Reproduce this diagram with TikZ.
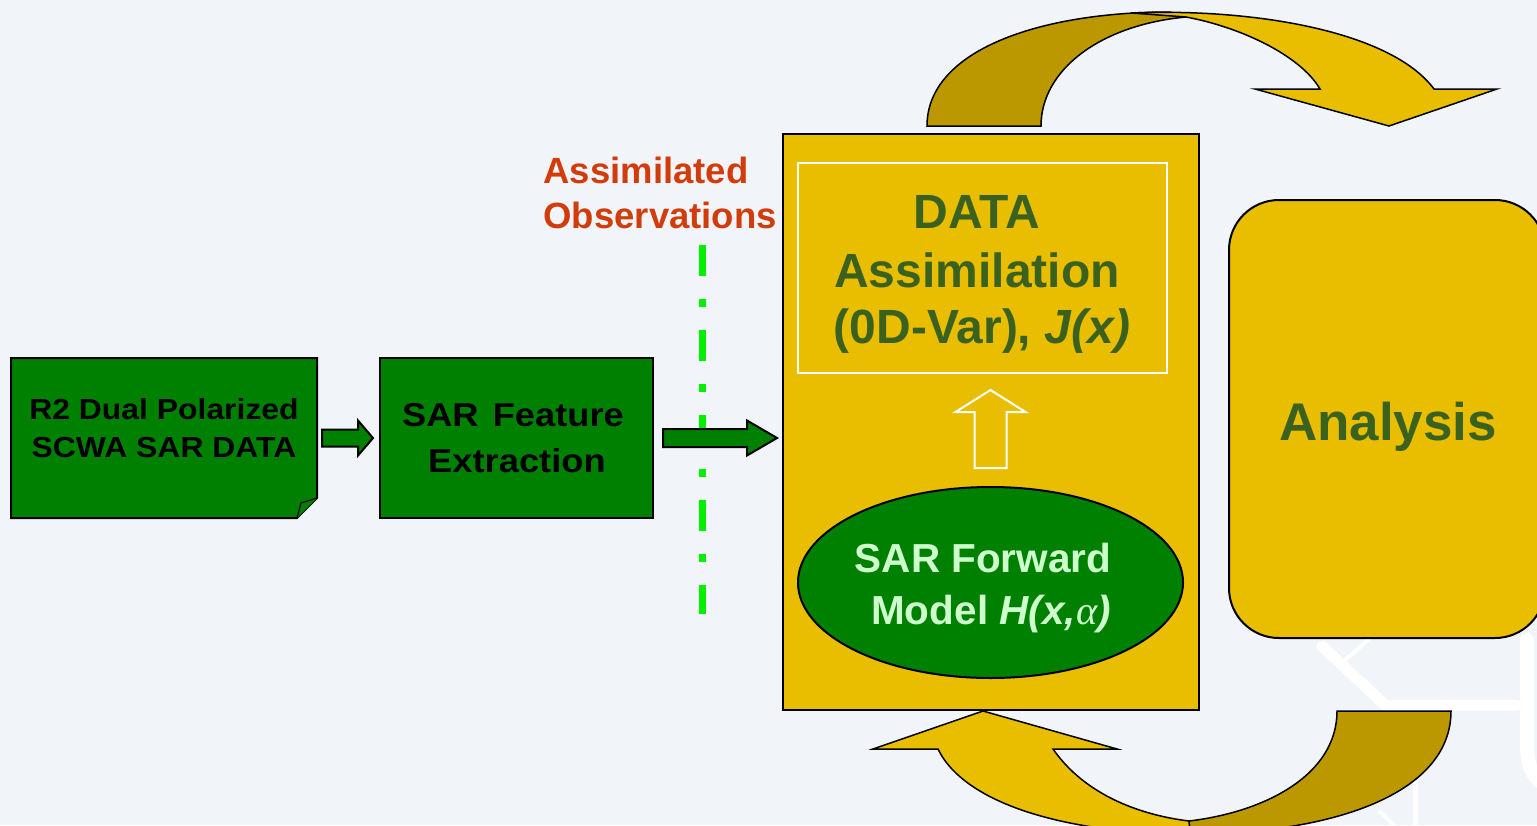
\documentclass[tikz,border=0pt]{standalone}
\usepackage{fontspec}
\setmainfont{Liberation Sans}
\newfontfamily\widefont[FakeStretch=1.1]{Liberation Sans}
\newfontfamily\alphafont{Liberation Serif}
\usetikzlibrary{shapes.geometric,calc}
\definecolor{bg}{RGB}{241,245,249}
\definecolor{sargreen}{RGB}{0,128,0}
\definecolor{gold}{RGB}{233,190,0}
\definecolor{darkgold}{RGB}{188,152,0}
\definecolor{txtgreen}{RGB}{58,98,30}
\definecolor{lightgreen}{RGB}{204,255,204}
\definecolor{obsred}{RGB}{210,60,10}
\definecolor{dashgreen}{RGB}{0,240,0}
\tikzset{
  boxarea/.style={inner sep=0pt, outer sep=0pt},
  gfill/.style={draw=black, line width=2pt, fill=sargreen},
  goldbox/.style={draw=black, line width=2pt, fill=gold, inner sep=0pt, outer sep=0pt},
  curvelight/.style={draw=black, line width=1.5pt, fill=gold},
  curvedark/.style={draw=black, line width=1.5pt, fill=darkgold},
  blockarrow/.style={draw=black, line width=2pt, fill=sargreen, line join=miter},
  hollowarrow/.style={draw=white, line width=2pt, line join=miter},
  wmark/.style={draw=white, line cap=round},
  rawtxt/.style={anchor=base, font=\widefont\bfseries\fontsize{29}{34}\selectfont, text=black},
  fetxt/.style={anchor=base, font=\widefont\bfseries\fontsize{33}{38}\selectfont, text=black},
  obstxt/.style={anchor=base west, font=\bfseries\fontsize{36.5}{42}\selectfont, text=obsred},
  datxt/.style={anchor=base, font=\bfseries\fontsize{48}{54}\selectfont, text=txtgreen},
  fwdtxt/.style={anchor=base, font=\bfseries\fontsize{40.5}{46}\selectfont, text=lightgreen},
  anatxt/.style={anchor=base, font=\bfseries\fontsize{53}{60}\selectfont, text=txtgreen},
}
\begin{document}
\begin{tikzpicture}[x=1pt,y=-1pt]
\useasboundingbox (0,0) rectangle (1537,825);
\fill[bg] (0,0) rectangle (1537,825);
\begin{scope}
\clip (0,0) rectangle (1537,825);
% faint background watermark lines
\draw[wmark, line width=11pt] (1322,646) -- (1385,705) -- (1517,705);
\draw[wmark, line width=4pt] (1343,662) -- (1368,640);
\draw[wmark, line width=5pt] (1415,712) -- (1415,830);
\draw[wmark, line width=4pt] (1380,812) -- (1395,826);
\draw[wmark, line width=14pt] (1527,640) -- (1527,745) .. controls (1527,770) and (1535,778) .. (1545,785);

% nodes (areas)
\node[boxarea, minimum width=306, minimum height=160] (raw) at (164,438) {};
\node[boxarea, minimum width=273, minimum height=160] (fe) at (516.5,438) {};
\node[goldbox, minimum width=416, minimum height=576] (da) at (991,422) {};
\node[draw=white, line width=2pt, inner sep=0pt, minimum width=369, minimum height=210] (cost) at (982.5,268) {};
\node[ellipse, draw=black, line width=2pt, fill=sargreen, inner sep=0pt, minimum width=385, minimum height=191] (fwd) at (990.5,582.5) {};
\node[goldbox, rounded corners=50pt, minimum width=316, minimum height=438] (ana) at (1387,419) {};

% raw data document shape
\filldraw[gfill, line join=miter] (raw.north west) -- (raw.north east) -- ($(raw.south east)+(0,-20)$) -- ($(raw.south east)+(-20,0)$) -- (raw.south west) -- cycle;
\filldraw[draw=black, line width=1.2pt, fill=sargreen] ($(raw.south east)+(-20,0)$) -- ($(raw.south east)+(-16,-15)$) -- ($(raw.south east)+(0,-20)$);
% feature extraction box
\filldraw[gfill] (fe.north west) rectangle (fe.south east);

% texts
\node[rawtxt] (rawt1) at (164,419) {R2 Dual Polarized};
\node[rawtxt] (rawt2) at (164,457) {SCWA SAR DATA};
\node[fetxt] (fet1) at (513,426) {SAR\hspace{4pt} Feature};
\node[fetxt] (fet2) at (517,472) {Extraction};
\node[obstxt] (obs1) at (540,183) {Assimilated};
\node[obstxt] (obs2) at (540,228) {Observations};

% dash-dot line
\coordinate (dtop) at (702,245);
\coordinate (dbot) at (702,614);
\draw[dashgreen, line width=7pt, dash pattern=on 31pt off 23pt on 8pt off 23pt] (dtop) -- (dbot);

% block arrow raw -> fe
\coordinate (a1s) at ($(raw.east)+(5,0)$);
\coordinate (a1e) at ($(fe.west)+(-7,0)$);
\filldraw[blockarrow] ($(a1s)+(0,-8.5)$) -- ($(a1e)+(-15,-8.5)$) -- ($(a1e)+(-15,-17.5)$) -- (a1e) -- ($(a1e)+(-15,17.5)$) -- ($(a1e)+(-15,8.5)$) -- ($(a1s)+(0,8.5)$) -- cycle;
% block arrow fe -> da
\coordinate (a2s) at ($(fe.east)+(10,0)$);
\coordinate (a2e) at ($(da.west |- fe.east)+(-6,0)$);
\filldraw[blockarrow] ($(a2s)+(0,-9)$) -- ($(a2e)+(-30,-9)$) -- ($(a2e)+(-30,-17.5)$) -- (a2e) -- ($(a2e)+(-30,17.5)$) -- ($(a2e)+(-30,9)$) -- ($(a2s)+(0,9)$) -- cycle;

% data assimilation texts
\node[datxt] (dat1) at (977,228) {DATA};
\node[datxt] (dat2) at (977,287) {Assimilation};
\node[datxt] (dat3) at (982,343) {(0D-Var), \textit{J(x)}};

% hollow up arrow fwd -> cost
\coordinate (ub) at ($(fwd.north)+(0,-18)$);
\coordinate (ut) at ($(cost.south -| fwd.north)+(0,16)$);
\draw[hollowarrow] ($(ub)+(-16,0)$) -- ($(ut)+(-16,22)$) -- ($(ut)+(-35,22)$) -- (ut) -- ($(ut)+(35,22)$) -- ($(ut)+(16,22)$) -- ($(ub)+(16,0)$) -- cycle;

% forward model texts
\node[fwdtxt] (fw1) at (983,572) {SAR Forward};
\node[fwdtxt] (fw2) at (991,624) {Model \textit{H(x,}{\alphafont\mdseries\itshape α}\textit{)}};

% analysis text
\node[anatxt] (anat) at (1388,440) {Analysis};

% top curved arrow
\filldraw[curvedark] (927,126) .. controls (927,50) and (1040,12) .. (1170,12) -- (1186,17) .. controls (1100,25) and (1041,70) .. (1041,126) -- cycle;
\filldraw[curvelight] (1131,13) .. controls (1250,8) and (1390,30) .. (1434,89) -- (1497,89) -- (1389,126) -- (1255,89) -- (1320,89) .. controls (1300,55) and (1240,27) .. (1186,17) -- cycle;

% bottom curved arrow
\filldraw[curvedark] (1337,711) -- (1451,711) .. controls (1451,795) and (1330,834) .. (1190,834) -- (1189,821) .. controls (1265,812) and (1337,775) .. (1337,711) -- cycle;
\filldraw[curvelight] (1189,821) .. controls (1140,815) and (1085,795) .. (1053,749) -- (1117,749) -- (983,711) -- (873,749) -- (938,749) .. controls (965,805) and (1070,834) .. (1190,834) -- cycle;
\end{scope}
\end{tikzpicture}
\end{document}
